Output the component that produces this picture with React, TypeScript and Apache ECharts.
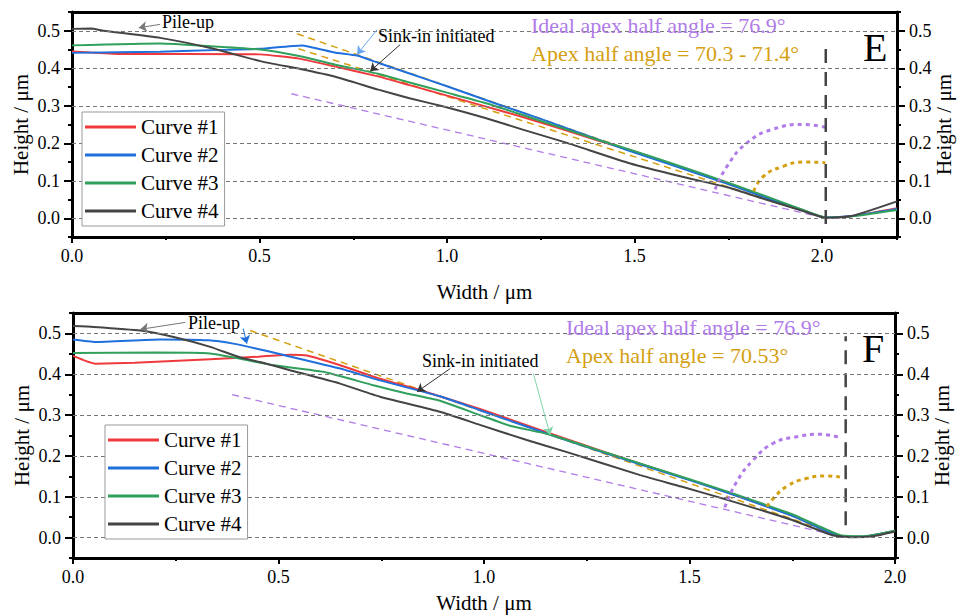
import React, { useEffect, useRef } from 'react';
import * as echarts from 'echarts';

const FONT = 'Liberation Serif, Times New Roman, serif';

const seriesNames = ['Curve #1', 'Curve #2', 'Curve #3', 'Curve #4'];
const seriesColors = ['#ee3a3c', '#1f6fdc', '#30a05c', '#444444'];
const purple = '#b07ce8';
const orange = '#d4a012';

const yTicks = [0, 0.1, 0.2, 0.3, 0.4, 0.5];
const xTicks = [0, 0.5, 1.0, 1.5, 2.0];
const xMaxE = 2.2;
const xMaxF = 2.0;

// ---------- Panel E ----------
const curve1E = [[0,0.445],[0.05,0.442],[0.131,0.438],[0.3,0.438],[0.502,0.437],[0.609,0.425],[0.7,0.405],[0.813,0.379],[0.9,0.355],[1.0,0.327],[1.1,0.299],[1.195,0.272],[1.3,0.24],[1.4,0.208],[1.5,0.178],[1.6,0.144],[1.75,0.093],[1.85,0.057],[1.95,0.021],[2.01,0.002],[2.08,0.006],[2.2,0.027]];
const curve2E = [[0,0.441],[0.235,0.444],[0.4,0.449],[0.502,0.452],[0.613,0.461],[0.7,0.442],[0.76,0.434],[0.818,0.414],[0.9,0.386],[1.0,0.352],[1.124,0.308],[1.25,0.265],[1.38,0.218],[1.48,0.182],[1.6,0.142],[1.75,0.091],[1.85,0.055],[1.95,0.02],[2.01,0.002],[2.08,0.006],[2.2,0.025]];
const curve3E = [[0,0.461],[0.235,0.466],[0.369,0.459],[0.502,0.45],[0.609,0.432],[0.7,0.41],[0.813,0.386],[0.9,0.362],[1.0,0.335],[1.1,0.308],[1.2,0.276],[1.3,0.243],[1.4,0.21],[1.5,0.179],[1.6,0.146],[1.75,0.095],[1.85,0.059],[1.95,0.022],[2.01,0.002],[2.08,0.005],[2.2,0.022]];
const curve4E = [[0,0.505],[0.05,0.506],[0.084,0.5],[0.235,0.481],[0.369,0.454],[0.502,0.419],[0.609,0.398],[0.7,0.378],[0.817,0.343],[0.9,0.32],[0.991,0.298],[1.1,0.268],[1.2,0.237],[1.32,0.201],[1.489,0.146],[1.622,0.112],[1.75,0.082],[1.85,0.05],[1.95,0.019],[2.01,0.001],[2.08,0.006],[2.2,0.045]];
const idealLineE = [[0.585,0.332],[2.01,0]];
const apexLineAE = [[0.6,0.492],[2.01,0]];
const apexLineBE = [[0.604,0.452],[2.01,0]];
const idealArcE = [[1.715,0.077],[1.747,0.139],[1.8,0.201],[1.871,0.238],[1.951,0.25],[2.009,0.243]];
const apexArcE = [[1.818,0.072],[1.844,0.112],[1.898,0.139],[1.951,0.15],[2.009,0.148]];
const contactLineE = [[2.01,-0.015],[2.01,0.47]];
// arrows: [from, to, color]
const arrowsE = [
  [[0.235,0.517],[0.178,0.508],'#777777'],
  [[0.814,0.503],[0.76,0.437],'#6aa6ee'],
  [[0.875,0.463],[0.795,0.392],'#333333'],
];

// ---------- Panel F ----------
const curve1F = [[0,0.445],[0.054,0.426],[0.15,0.428],[0.334,0.437],[0.45,0.443],[0.528,0.448],[0.569,0.446],[0.65,0.422],[0.747,0.389],[0.845,0.361],[0.99,0.315],[1.161,0.255],[1.3,0.207],[1.5,0.142],[1.6,0.108],[1.75,0.054],[1.83,0.018],[1.87,0.002],[1.92,0.002],[2.0,0.016]];
const curve2F = [[0,0.485],[0.054,0.479],[0.212,0.485],[0.33,0.483],[0.39,0.475],[0.45,0.462],[0.505,0.449],[0.65,0.414],[0.747,0.385],[0.893,0.346],[0.99,0.312],[1.161,0.252],[1.3,0.205],[1.5,0.141],[1.6,0.107],[1.75,0.053],[1.83,0.017],[1.87,0.002],[1.92,0.002],[2.0,0.016]];
const curve3F = [[0,0.452],[0.2,0.453],[0.334,0.451],[0.407,0.438],[0.488,0.422],[0.609,0.406],[0.731,0.373],[0.812,0.353],[0.893,0.335],[0.99,0.3],[1.063,0.274],[1.161,0.252],[1.3,0.207],[1.5,0.143],[1.6,0.11],[1.75,0.057],[1.83,0.021],[1.87,0.005],[1.92,0.003],[2.0,0.017]];
const curve4F = [[0,0.518],[0.05,0.516],[0.164,0.507],[0.25,0.49],[0.334,0.467],[0.407,0.441],[0.455,0.43],[0.528,0.41],[0.65,0.377],[0.747,0.345],[0.893,0.308],[0.99,0.276],[1.104,0.239],[1.2,0.21],[1.38,0.153],[1.48,0.125],[1.6,0.09],[1.75,0.043],[1.85,0.005],[1.9,0.001],[1.95,0.004],[2.0,0.015]];
const idealLineF = [[0.387,0.35],[1.88,0]];
const apexLineF = [[0.431,0.507],[1.88,0]];
const idealArcF = [[1.586,0.074],[1.615,0.137],[1.655,0.19],[1.704,0.231],[1.761,0.247],[1.817,0.253],[1.866,0.245]];
const apexArcF = [[1.688,0.076],[1.704,0.096],[1.736,0.125],[1.785,0.145],[1.834,0.151],[1.866,0.148]];
const contactLineF = [[1.88,0.03],[1.88,0.493]];
const arrowsF = [
  [[0.273,0.527],[0.164,0.51],'#777777'],
  [[0.414,0.512],[0.423,0.475],'#1f6fdc'],
  [[0.918,0.414],[0.837,0.357],'#333333'],
  [[1.12,0.402],[1.161,0.251],'#7fd4a8'],
];

const axisFont = { fontSize: 18, fontFamily: FONT, color: '#000' };
const nameFont = { fontSize: 21, fontFamily: FONT, color: '#000' };
const blackLine = { color: '#000', width: 3 };
const tickLine = { color: '#000', width: 2 };

function makeXAxes(gridIndex: number, max: number, nameGap: number) {
  return [
    {
      type: 'value', gridIndex, position: 'bottom', min: 0, max, interval: 0.25,
      axisLine: { show: true, onZero: false, lineStyle: blackLine },
      axisTick: { show: true, customValues: xTicks, length: 6, lineStyle: tickLine },
      axisLabel: { customValues: xTicks, formatter: (v: number) => v.toFixed(1), margin: 10, ...axisFont },
      splitLine: { show: false },
      name: 'Width / μm', nameLocation: 'middle', nameGap, nameTextStyle: nameFont, nameMoveOverlap: false,
    },
    {
      type: 'value', gridIndex, position: 'bottom', min: 0, max, interval: 0.25,
      axisLine: { show: false, onZero: false },
      axisTick: { show: true, length: 3, lineStyle: tickLine },
      axisLabel: { show: false }, splitLine: { show: false },
    },
    {
      type: 'value', gridIndex, position: 'top', min: 0, max,
      axisLine: { show: true, onZero: false, lineStyle: blackLine },
      axisTick: { show: false }, axisLabel: { show: false }, splitLine: { show: false },
    },
  ];
}

function makeYAxes(gridIndex: number, gapL: number, gapR: number) {
  const base = { type: 'value', gridIndex, min: -0.05, max: 0.55, interval: 0.05, splitLine: { show: false } };
  const main = (position: string, gap: number) => ({
    ...base, position,
    axisLine: { show: true, onZero: false, lineStyle: blackLine },
    axisTick: { show: true, customValues: yTicks, length: 8, lineStyle: tickLine },
    axisLabel: { customValues: yTicks, formatter: (v: number) => v.toFixed(1), margin: 12, ...axisFont },
    name: 'Height / μm', nameLocation: 'middle', nameRotate: 90, nameGap: gap, nameTextStyle: nameFont,
    nameMoveOverlap: false,
  });
  const minor = (position: string) => ({
    ...base, position,
    axisLine: { show: false, onZero: false },
    axisTick: { show: true, length: 4, lineStyle: tickLine },
    axisLabel: { show: false },
  });
  return [main('left', gapL), minor('left'), main('right', gapR), minor('right')];
}

function panelSeries(xi: number, yi: number, curves: number[][][], ideal: number[][], apexLines: number[][][], idealArc: number[][], apexArc: number[][], contact: number[][], arrows: any[]) {
  const ax = { xAxisIndex: xi, yAxisIndex: yi };
  const out: any[] = [];
  out.push({
    type: 'scatter', ...ax, data: [], silent: true, z: 1,
    markLine: {
      silent: true, symbol: 'none', animation: false,
      label: { show: false },
      lineStyle: { color: '#777', width: 1, type: [4, 3] },
      data: yTicks.map((v) => ({ yAxis: v })),
    },
  });
  out.push({ type: 'line', ...ax, data: ideal, showSymbol: false, symbol: 'none', silent: true, z: 2,
    lineStyle: { color: purple, width: 1.3, type: [7, 5] } });
  apexLines.forEach((d) => out.push({ type: 'line', ...ax, data: d, showSymbol: false, symbol: 'none', silent: true, z: 2,
    lineStyle: { color: orange, width: 1.5, type: [7, 5] } }));
  curves.forEach((d, i) => out.push({
    type: 'line', name: seriesNames[i], ...ax, data: d, showSymbol: false, symbol: 'none',
    smooth: 0.15, color: seriesColors[i], lineStyle: { width: 2, color: seriesColors[i] }, z: 3,
  }));
  out.push({ type: 'line', ...ax, data: idealArc, showSymbol: false, symbol: 'none', smooth: true, silent: true, z: 4,
    lineStyle: { color: purple, width: 3, type: [4, 4] } });
  out.push({ type: 'line', ...ax, data: apexArc, showSymbol: false, symbol: 'none', smooth: true, silent: true, z: 4,
    lineStyle: { color: orange, width: 3, type: [4, 4] } });
  out.push({ type: 'line', ...ax, data: contact, showSymbol: false, symbol: 'none', silent: true, z: 4,
    lineStyle: { color: '#444', width: 2.5, type: [14, 9] } });
  out.push({
    type: 'scatter', ...ax, data: [], silent: true, z: 5,
    markLine: {
      silent: true, symbol: ['none', 'arrow'], symbolSize: 8, animation: false,
      label: { show: false },
      data: arrows.map(([a, b, c]) => [
        { coord: a, lineStyle: { color: c, width: 1, type: 'solid' }, itemStyle: { color: c } },
        { coord: b },
      ]),
    },
  });
  return out;
}

function txt(x: number, y: number, text: string, size: number, color: string) {
  return {
    type: 'text', x, y, silent: true, z: 10,
    style: { text, fill: color, fontSize: size, fontFamily: FONT, align: 'left', verticalAlign: 'middle' },
  };
}

export default function App() {
  const ref = useRef<HTMLDivElement>(null);
  useEffect(() => {
    if (!ref.current) return;
    const chart = echarts.init(ref.current, null, { renderer: 'svg' });
    const legendBase = {
      orient: 'vertical', data: seriesNames, icon: 'rect', itemWidth: 51, itemHeight: 3, itemGap: 0,
      textStyle: { fontSize: 21, fontFamily: FONT, color: '#000', lineHeight: 28 },
      borderColor: '#999', borderWidth: 1, backgroundColor: '#fff', padding: [1, 6, 1, 3], selectedMode: false,
      z: 30,
    };
    const option: any = {
      animation: false,
      backgroundColor: '#fff',
      textStyle: { fontFamily: FONT },
      grid: [
        { left: 72, top: 12, width: 825, height: 225, outerBoundsMode: 'none', containLabel: false },
        { left: 73, top: 313, width: 822, height: 245, outerBoundsMode: 'none', containLabel: false },
      ],
      xAxis: [...makeXAxes(0, xMaxE, 44), ...makeXAxes(1, xMaxF, 34)],
      yAxis: [...makeYAxes(0, 41, 36), ...makeYAxes(1, 41, 36)],
      legend: [
        { ...legendBase, left: 82, top: 112 },
        { ...legendBase, left: 105, top: 425 },
      ],
      series: [
        ...panelSeries(0, 0, [curve1E, curve2E, curve3E, curve4E], idealLineE, [apexLineAE, apexLineBE], idealArcE, apexArcE, contactLineE, arrowsE),
        ...panelSeries(3, 4, [curve1F, curve2F, curve3F, curve4F], idealLineF, [apexLineF], idealArcF, apexArcF, contactLineF, arrowsF),
      ],
      graphic: [
        txt(162, 22, 'Pile-up', 18, '#000'),
        txt(378, 36, 'Sink-in initiated', 18, '#000'),
        txt(531, 25, 'Ideal apex half angle = 76.9°', 22, purple),
        txt(531, 53, 'Apex half angle = 70.3 - 71.4°', 22, orange),
        txt(863, 47, 'E', 40, '#000'),
        txt(188, 323, 'Pile-up', 18, '#000'),
        txt(422, 361, 'Sink-in initiated', 18, '#000'),
        txt(566, 327, 'Ideal apex half angle = 76.9°', 22, purple),
        txt(566, 355, 'Apex half angle = 70.53°', 22, orange),
        txt(862, 348, 'F', 40, '#000'),
      ],
    };
    chart.setOption(option);
    return () => chart.dispose();
  }, []);
  return <div ref={ref} style={{ position: 'fixed', left: 0, top: 0, width: 958, height: 615 }} />;
}
